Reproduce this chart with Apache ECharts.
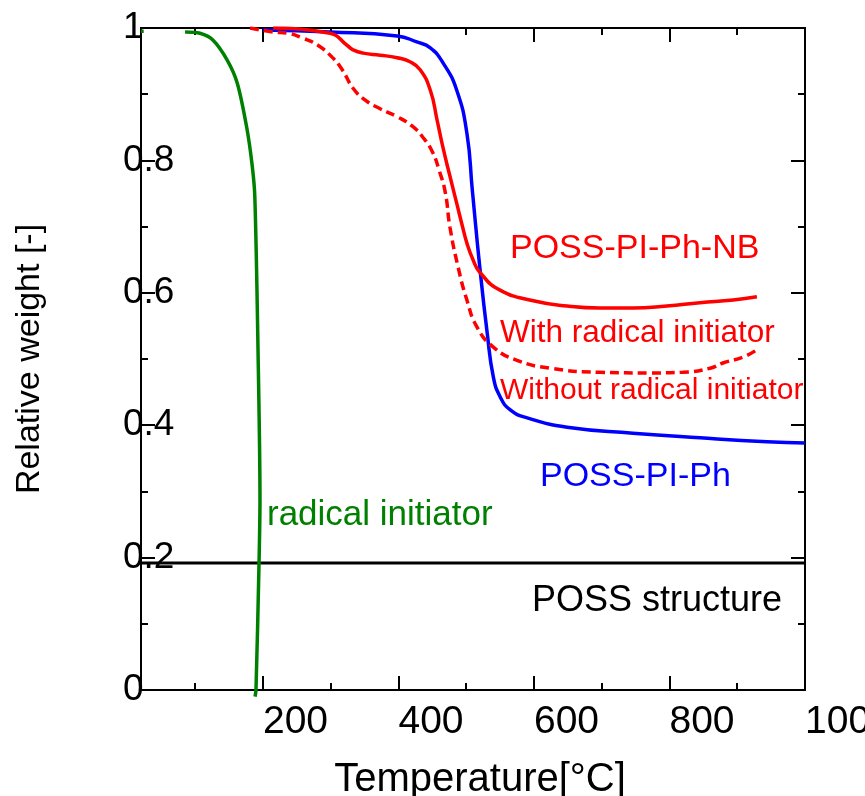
<!DOCTYPE html>
<html>
<head>
<meta charset="utf-8">
<script src="https://cdn.jsdelivr.net/npm/echarts@6/dist/echarts.min.js"></script>
<style>
  html, body { margin: 0; padding: 0; background: #fff; }
  #chart { width: 865px; height: 796px; }
</style>
</head>
<body>
<div id="chart"></div>
<script>
// tick values
const xMajor = [200, 400, 600, 800, 1000]
const xMinor = [100, 300, 500, 700, 900]
const yMajor = [0, 0.2, 0.4, 0.6, 0.8, 1]
const yMinor = [0.1, 0.3, 0.5, 0.7, 0.9]

// radical initiator (green), '-' = gap in the trace
const initT = [20, 24, 24, 85, 107, 126, 147, 162, 176, 184, 188, 192.7, 195.6, 194.2, 189.7, 188.3]
const initW = [0.995, 0.995, '-', 0.994, 0.992, 0.982, 0.952, 0.917, 0.850, 0.793, 0.745, 0.514, 0.287, 0.192, 0.0, -0.01]

// POSS-PI-Ph (blue)
const phT = [200, 299, 398, 427, 447, 466, 486, 501, 509, 520, 531, 540, 550, 565, 590, 649, 746, 845, 944, 1000]
const phW = [0.997, 0.994, 0.988, 0.979, 0.970, 0.947, 0.906, 0.841, 0.755, 0.639, 0.539, 0.473, 0.443, 0.423, 0.411, 0.397, 0.388, 0.381, 0.375, 0.373]

// POSS-PI-Ph-NB with radical initiator (red solid)
const nbT = [215, 299, 324, 333, 348, 373, 398, 417, 432, 447, 457, 466, 476, 486, 494, 501, 510, 520, 550, 599, 649, 697, 746, 796, 845, 894, 929]
const nbW = [1.0, 0.992, 0.974, 0.967, 0.962, 0.959, 0.955, 0.949, 0.937, 0.906, 0.861, 0.818, 0.776, 0.735, 0.702, 0.675, 0.650, 0.631, 0.604, 0.588, 0.580, 0.577, 0.577, 0.580, 0.585, 0.589, 0.594]

// POSS-PI-Ph-NB without radical initiator (red dashed)
const woT = [181, 215, 237, 258, 281, 302, 317, 333, 351, 373, 398, 420, 436, 450, 460, 469, 476, 488, 501, 516, 540, 575, 624, 697, 771, 820, 860, 879, 909, 929]
const woW = [1.0, 0.994, 0.992, 0.985, 0.974, 0.956, 0.937, 0.909, 0.891, 0.878, 0.866, 0.852, 0.835, 0.813, 0.785, 0.752, 0.699, 0.639, 0.589, 0.548, 0.518, 0.498, 0.486, 0.480, 0.479, 0.480, 0.486, 0.494, 0.503, 0.514]

// POSS structure level (black)
const possT = [20, 1000]
const possW = [0.192, 0.192]

const font = 'Liberation Sans, Arial, sans-serif'
const zip = (a, b) => a.map((v, i) => [v, b[i]])

function xAx(pos, ticks, len, labels) {
  return {
    type: 'value', position: pos, min: 20, max: 1000,
    axisLine: { show: true, onZero: false, lineStyle: { color: '#000', width: 2 } },
    axisTick: { show: true, inside: true, length: len, customValues: ticks, lineStyle: { color: '#000', width: 2 } },
    axisLabel: labels ? {
      show: true, customValues: xMajor, align: 'left', margin: 13,
      color: '#000', fontSize: 39, fontFamily: font,
      formatter: v => String(v)
    } : { show: false },
    splitLine: { show: false }
  }
}
function yAx(pos, ticks, len, labels) {
  return {
    type: 'value', position: pos, min: 0, max: 1,
    axisLine: { show: true, onZero: false, lineStyle: { color: '#000', width: 2 } },
    axisTick: { show: true, inside: true, length: len, customValues: ticks, lineStyle: { color: '#000', width: 2 } },
    axisLabel: labels ? {
      show: true, customValues: yMajor, align: 'left', margin: 18,
      color: '#000', fontSize: 37, fontFamily: font,
      formatter: v => String(v)
    } : { show: false },
    splitLine: { show: false }
  }
}

const chart = echarts.init(document.getElementById('chart'))

const xMain = xAx('bottom', xMajor, 14, true)
xMain.name = 'Temperature[°C]'
xMain.nameLocation = 'middle'
xMain.nameGap = 70
xMain.nameTextStyle = { color: '#000', fontSize: 40, fontFamily: font, padding: [0, 0, 0, 14] }

const yMain = yAx('left', yMajor, 14, true)
yMain.name = 'Relative weight [-]'
yMain.nameLocation = 'middle'
yMain.nameGap = 94
yMain.nameTextStyle = { color: '#000', fontSize: 34, fontFamily: font }

const line = (name, t, w, color, extra) => Object.assign({
  name: name, type: 'line', data: zip(t, w), showSymbol: false,
  lineStyle: { color: color, width: 3.5 }, itemStyle: { color: color },
  smooth: 0.5, animation: false
}, extra || {})

chart.setOption({
  animation: false,
  grid: { left: 141, right: 60, top: 28, bottom: 106, containLabel: false, outerBoundsMode: 'none' },
  xAxis: [xMain, xAx('bottom', xMinor, 7, false), xAx('top', xMajor, 14, false), xAx('top', xMinor, 7, false)],
  yAxis: [yMain, yAx('left', yMinor, 7, false), yAx('right', yMajor, 14, false), yAx('right', yMinor, 7, false)],
  series: [
    line('POSS structure', possT, possW, '#000', { smooth: false, lineStyle: { color: '#000', width: 3 } }),
    line('radical initiator', initT, initW, '#008000', { smooth: 0.3, clip: false }),
    line('POSS-PI-Ph', phT, phW, '#0000ff'),
    line('With radical initiator', nbT, nbW, '#ff0000'),
    line('Without radical initiator', woT, woW, '#ff0000', { lineStyle: { color: '#ff0000', width: 3.5, type: [9, 5] } })
  ],
  graphic: [
    { type: 'text', left: 510, top: 232, style: { text: 'POSS-PI-Ph-NB', fill: '#ff0000', fontSize: 34, fontFamily: font } },
    { type: 'text', left: 500, top: 317, style: { text: 'With radical initiator', fill: '#ff0000', fontSize: 31.5, fontFamily: font } },
    { type: 'text', left: 500, top: 376, style: { text: 'Without radical initiator', fill: '#ff0000', fontSize: 30, fontFamily: font } },
    { type: 'text', left: 540, top: 460, style: { text: 'POSS-PI-Ph', fill: '#0000ff', fontSize: 34, fontFamily: font } },
    { type: 'text', left: 267, top: 498, style: { text: 'radical initiator', fill: '#008000', fontSize: 35, fontFamily: font } },
    { type: 'text', left: 532, top: 583, style: { text: 'POSS structure', fill: '#000', fontSize: 36, fontFamily: font } }
  ]
})
</script>
</body>
</html>
